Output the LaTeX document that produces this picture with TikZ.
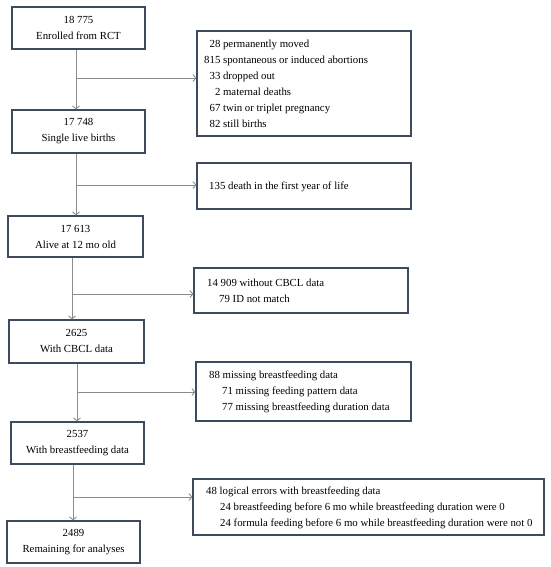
\documentclass[tikz,border=0pt]{standalone}
\usepackage{fontspec}
\setmainfont{Liberation Serif}
\usetikzlibrary{arrows.meta}
\definecolor{boxc}{HTML}{3E4A5E}
\definecolor{arrc}{HTML}{8C8C8C}
\begin{document}
\begin{tikzpicture}[x=1pt,y=-1pt,
  mainbox/.style={draw=boxc, line width=1.1pt, minimum width=133pt, minimum height=42pt,
    align=center, inner sep=0pt, font=\fontsize{10.8}{16}\selectfont},
  sidebox/.style={draw=boxc, line width=1.1pt, inner sep=0pt},
  sidetext/.style={anchor=west, align=left, inner sep=0pt, font=\fontsize{10.8}{16}\selectfont},
  arr/.style={draw=arrc, line width=0.9pt, -{Straight Barb[length=3pt,width=7pt]}}]
\useasboundingbox (0,0) rectangle (550,567);
\fill[white] (0,0) rectangle (550,567);

% main boxes
\node[mainbox] (m1) at (78.5,28) {18 775\\Enrolled from RCT};
\node[mainbox, minimum height=43pt] (m2) at (78.5,131.5) {17 748\\Single live births};
\node[mainbox, minimum width=135pt, minimum height=41pt] (m3) at (75.5,236.5) {17 613\\Alive at 12 mo old};
\node[mainbox, minimum width=135pt, minimum height=43pt] (m4) at (76.5,341.5) {2625\\With CBCL data};
\node[mainbox] (m5) at (77.5,443) {2537\\With breastfeeding data};
\node[mainbox] (m6) at (73.5,542) {2489\\Remaining for analyses};

% side boxes
\node[sidebox, minimum width=214pt, minimum height=105pt] (s1) at (304,83.5) {};
\node[sidetext] (t1) at (204,84) {\hphantom{0}28 permanently moved\\815 spontaneous or induced abortions\\\hphantom{0}33 dropped out\\\hphantom{00}2 maternal deaths\\\hphantom{0}67 twin or triplet pregnancy\\\hphantom{0}82 still births};

\node[sidebox, minimum width=214pt, minimum height=46pt] (s2) at (304,186) {};
\node[sidetext] (t2) at (209,187) {135 death in the first year of life};

\node[sidebox, minimum width=214pt, minimum height=45pt] (s3) at (301,290.5) {};
\node[sidetext] (t3) at (207,291) {14 909 without CBCL data\\\hspace{12pt}79 ID not match};

\node[sidebox, minimum width=215pt, minimum height=59pt] (s4) at (303.5,391.5) {};
\node[sidetext] (t4) at (209,392) {88 missing breastfeeding data\\\hspace{13pt}71 missing feeding pattern data\\\hspace{13pt}77 missing breastfeeding duration data};

\node[sidebox, minimum width=351pt, minimum height=56pt] (s5) at (368.5,507) {};
\node[sidetext] (t5) at (206,507.5) {48 logical errors with breastfeeding data\\\hspace{14pt}24 breastfeeding before 6 mo while breastfeeding duration were 0\\\hspace{14pt}24 formula feeding before 6 mo while breastfeeding duration were not 0};

% branch points
\coordinate (c1) at (76,78);
\coordinate (c2) at (76,185);
\coordinate (c3) at (72,294);
\coordinate (c4) at (77,392);
\coordinate (c5) at (73,497);

% connectors
\draw[arr] (m1.south -| c1) -- (m2.north -| c1);
\draw[arr] (c1) -- (c1 -| s1.west);
\draw[arr] (m2.south -| c2) -- (m3.north -| c2);
\draw[arr] (c2) -- (c2 -| s2.west);
\draw[arr] (m3.south -| c3) -- (m4.north -| c3);
\draw[arr] (c3) -- (c3 -| s3.west);
\draw[arr] (m4.south -| c4) -- (m5.north -| c4);
\draw[arr] (c4) -- (c4 -| s4.west);
\draw[arr] (m5.south -| c5) -- (m6.north -| c5);
\draw[arr] (c5) -- (c5 -| s5.west);
\end{tikzpicture}
\end{document}
